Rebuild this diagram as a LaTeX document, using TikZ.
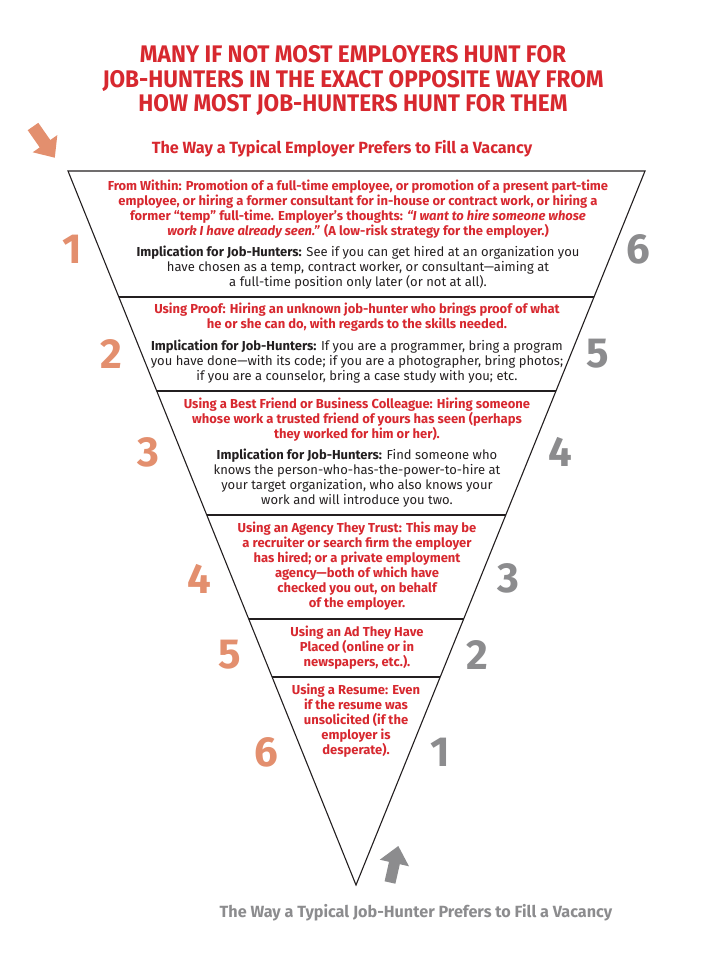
\documentclass[tikz,border=0pt]{standalone}
\usepackage{fontspec}
\setmainfont{Fira Sans}
\newfontfamily\headfont[FakeStretch=0.94]{Fira Sans}
\usetikzlibrary{positioning}

\begin{document}
\begin{tikzpicture}[
    x=1pt, y=-1pt,
    every node/.style={inner sep=0pt},
]

% ---------------------------------------------------------------- colours
\definecolor{hotred}{HTML}{D7282F}    % headings and the employer's ways
\definecolor{salmon}{HTML}{E38F6E}    % employer's ranking
\definecolor{ashgrey}{HTML}{8C8C8E}   % job-hunter's ranking
\definecolor{inkline}{HTML}{231F20}

% ---------------------------------------------------------------- styles
\tikzset{
    bandline/.style={inkline, line width=1.1pt},
    waytext/.style={align=center, text=hotred,
                    font=\fontsize{13}{15}\selectfont\bfseries},
    hinttext/.style={align=center, text=inkline,
                     font=\fontsize{13}{15}\selectfont},
    rankL/.style={text=salmon, font=\fontsize{42}{42}\selectfont\bfseries},
    rankR/.style={text=ashgrey, font=\fontsize{42}{42}\selectfont\bfseries},
}

\useasboundingbox (0,0) rectangle (720,956);

% ---------------------------------------------------------------- headings
\node[align=center, text=hotred,
      font=\headfont\fontsize{24}{24.5}\selectfont\bfseries] (title)
    at (353,81)
    {MANY IF NOT MOST EMPLOYERS HUNT FOR\\
     JOB-HUNTERS IN THE EXACT OPPOSITE WAY FROM\\
     HOW MOST JOB-HUNTERS HUNT FOR THEM};

\node[text=hotred, font=\fontsize{16.2}{16}\selectfont\bfseries] (topway)
    at (342,149) {The Way a Typical Employer Prefers to Fill a Vacancy};
\node[text=ashgrey, font=\fontsize{16.2}{16}\selectfont\bfseries] (lowway)
    at (416,913) {The Way a Typical Job-Hunter Prefers to Fill a Vacancy};

% the two block arrows, top one down into the funnel, bottom one up
\fill[salmon] (38.3,122.8) -- (50.3,140.0) -- (57.3,135.1) -- (54.8,157.7)
    -- (32.7,152.3) -- (39.7,147.4) -- (27.7,130.2) -- cycle;
\fill[ashgrey] (395.4,883.7) -- (399.8,864.2) -- (409.0,866.3)
    -- (398.3,846) -- (379.8,859.7) -- (389.0,861.8) -- (384.6,881.3)
    -- cycle;

% ---------------------------------------------------------------- funnel
\coordinate (tl) at (68,171);
\coordinate (tr) at (645,171);
\coordinate (apex) at (356,885);

\draw[bandline, line join=miter] (tl) -- (tr) -- (apex) -- cycle;
\draw[bandline] (118.8,297) -- (594,297);
\draw[bandline] (156.7,391) -- (556,391);
\draw[bandline] (206.8,515) -- (505.7,515);
\draw[bandline] (248.7,619) -- (463.6,619);
\draw[bandline] (272.1,677) -- (440.2,677);

% ---------------------------------------------------------------- band 1
\node[waytext] (way1) at (358,209)
    {From Within: Promotion of a full-time employee, or promotion of a present part-time\\
     employee, or hiring a former consultant for in-house or contract work, or hiring a\\
     former “temp” full-time. Employer’s thoughts: \textit{“I want to hire someone whose}\\
     \textit{work I have already seen.”} (A low-risk strategy for the employer.)};
\node[hinttext] (hint1) at (358,268)
    {\textbf{Implication for Job-Hunters:} See if you can get hired at an organization you\\
     have chosen as a temp, contract worker, or consultant—aiming at\\
     a full-time position only later (or not at all).};

% ---------------------------------------------------------------- band 2
\node[waytext] (way2) at (357,317.5)
    {Using Proof: Hiring an unknown job-hunter who brings proof of what\\
     he or she can do, with regards to the skills needed.};
\node[hinttext] (hint2) at (357,362)
    {\textbf{Implication for Job-Hunters:} If you are a programmer, bring a program\\
     you have done—with its code; if you are a photographer, bring photos;\\
     if you are a counselor, bring a case study with you; etc.};

% ---------------------------------------------------------------- band 3
\node[waytext] (way3) at (357,420)
    {Using a Best Friend or Business Colleague: Hiring someone\\
     whose work a trusted friend of yours has seen (perhaps\\
     they worked for him or her).};
\node[hinttext] (hint3) at (357,478.5)
    {\textbf{Implication for Job-Hunters:} Find someone who\\
     knows the person-who-has-the-power-to-hire at\\
     your target organization, who also knows your\\
     work and will introduce you two.};

% ---------------------------------------------------------------- bands 4 to 6
\node[waytext] (way4) at (357,566.5)
    {Using an Agency They Trust: This may be\\
     a recruiter or search firm the employer\\
     has hired; or a private employment\\
     agency—both of which have\\
     checked you out, on behalf\\
     of the employer.};
\node[waytext] (way5) at (357,648)
    {Using an Ad They Have\\
     Placed (online or in\\
     newspapers, etc.).};
\node[waytext] (way6) at (356,721)
    {Using a Resume: Even\\
     if the resume was\\
     unsolicited (if the\\
     employer is\\
     desperate).};

% ---------------------------------------------------------------- rankings
\node[rankL] (e1) at (72,249) {1};
\node[rankL] (e2) at (111,354) {2};
\node[rankL] (e3) at (148,452) {3};
\node[rankL] (e4) at (199,579) {4};
\node[rankL] (e5) at (230,655) {5};
\node[rankL] (e6) at (266,752) {6};

\node[rankR] (h6) at (638,249) {6};
\node[rankR] (h5) at (598,354) {5};
\node[rankR] (h4) at (560,452) {4};
\node[rankR] (h3) at (508,578) {3};
\node[rankR] (h2) at (477,655) {2};
\node[rankR] (h1) at (440,752) {1};

\end{tikzpicture}
\end{document}
